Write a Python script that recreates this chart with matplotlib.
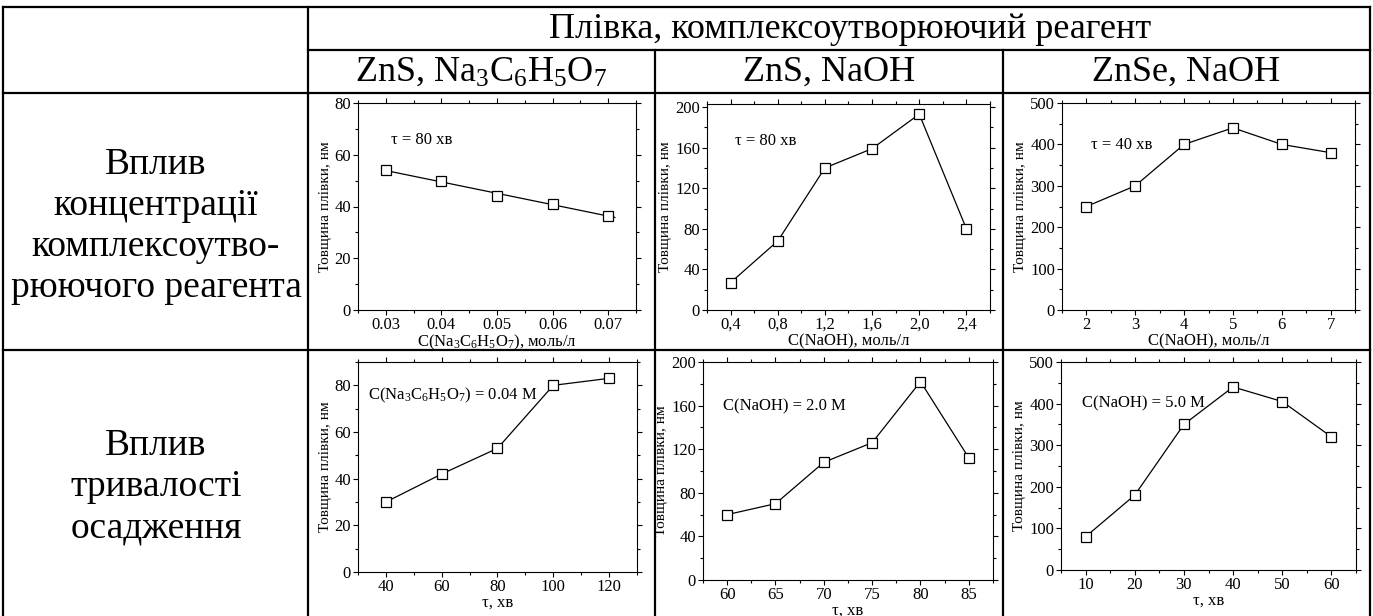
import numpy as np
import matplotlib.pyplot as plt
from matplotlib.ticker import MultipleLocator, FuncFormatter

plt.rcParams['font.family'] = ['Liberation Serif', 'DejaVu Serif']
plt.rcParams['mathtext.default'] = 'regular'

W, H = 1373, 616

# table headers
group_title = 'Плівка, комплексоутворюючий реагент'
col_titles = ['ZnS, Na$_3$C$_6$H$_5$O$_7$', 'ZnS, NaOH', 'ZnSe, NaOH']
row_titles = ['Вплив\nконцентрації\nкомплексоутво-\nрюючого реагента',
              'Вплив\nтривалості\nосадження']

# film thickness vs complexing agent concentration (nm)
conc_citrate = [0.03, 0.04, 0.05, 0.06, 0.07]
thick_citrate = [54, 50, 44, 41, 36.5]
conc_naoh_zns = [0.4, 0.8, 1.2, 1.6, 2.0, 2.4]
thick_naoh_zns = [27, 68, 140, 159, 193, 80]
conc_naoh_znse = [2, 3, 4, 5, 6, 7]
thick_naoh_znse = [250, 300, 400, 440, 400, 380]

# film thickness vs deposition time (nm)
time_citrate = [40, 60, 80, 100, 120]
thick_time_citrate = [30, 42, 53, 80, 83]
time_naoh_zns = [60, 65, 70, 75, 80, 85]
thick_time_naoh_zns = [60, 70, 108, 126, 182, 112]
time_naoh_znse = [10, 20, 30, 40, 50, 60]
thick_time_naoh_znse = [80, 180, 350, 440, 405, 320]

ylabel = 'Товщина плівки, нм'

panels = [
    dict(x=conc_citrate, y=thick_citrate, box=(358, 103, 636, 310),
         xlim=(0.025, 0.075), ylim=(0, 80), xt=(0.01, 0.005), yt=(20, 10),
         xlabel='C(Na$_3$C$_6$H$_5$O$_7$), моль/л', note='τ = 80 хв', npos=(0.12, 0.8),
         fmt=lambda v, p: f'{v:.2f}', fit=True),
    dict(x=conc_naoh_zns, y=thick_naoh_zns, box=(707, 104, 990, 310),
         xlim=(0.2, 2.6), ylim=(0, 203), xt=(0.4, 0.2), yt=(40, 20),
         xlabel='C(NaOH), моль/л', note='τ = 80 хв', npos=(0.1, 0.8),
         fmt=lambda v, p: f'{v:.1f}'.replace('.', ','), fit=False),
    dict(x=conc_naoh_znse, y=thick_naoh_znse, box=(1062, 103, 1355, 310),
         xlim=(1.5, 7.5), ylim=(0, 500), xt=(1, 0.5), yt=(100, 50),
         xlabel='C(NaOH), моль/л', note='τ = 40 хв', npos=(0.1, 0.78),
         fmt=lambda v, p: f'{v:.0f}', fit=False),
    dict(x=time_citrate, y=thick_time_citrate, box=(358, 362, 637, 572),
         xlim=(30, 130), ylim=(0, 90), xt=(20, 10), yt=(20, 10),
         xlabel='τ, хв', note='C(Na$_3$C$_6$H$_5$O$_7$) = 0.04 M', npos=(0.035, 0.82),
         fmt=lambda v, p: f'{v:.0f}', fit=False),
    dict(x=time_naoh_zns, y=thick_time_naoh_zns, box=(703, 362, 993, 580),
         xlim=(57.5, 87.5), ylim=(0, 200), xt=(5, 2.5), yt=(40, 20),
         xlabel='τ, хв', note='C(NaOH) = 2.0 M', npos=(0.07, 0.78),
         fmt=lambda v, p: f'{v:.0f}', fit=False),
    dict(x=time_naoh_znse, y=thick_time_naoh_znse, box=(1061, 362, 1356, 570),
         xlim=(5, 65), ylim=(0, 500), xt=(10, 5), yt=(100, 50),
         xlabel='τ, хв', note='C(NaOH) = 5.0 M', npos=(0.07, 0.78),
         fmt=lambda v, p: f'{v:.0f}', fit=False),
]

fig = plt.figure(figsize=(W / 100, H / 100), dpi=100)

# table grid and captions drawn in pixel coordinates
grid = fig.add_axes([0, 0, 1, 1])
grid.set_xlim(0, W)
grid.set_ylim(H, 0)
grid.axis('off')

lw = 1.6
hlines = [(7, 3, 1370), (50, 308, 1370), (93, 3, 1370), (350, 3, 1370)]
vlines = [(3, 7, 616), (308, 7, 616), (655, 50, 616), (1003, 50, 616), (1370, 7, 616)]
for y, x0, x1 in hlines:
    grid.plot([x0, x1], [y, y], color='black', lw=lw, solid_capstyle='projecting')
for x, y0, y1 in vlines:
    grid.plot([x, x], [y0, y1], color='black', lw=lw, solid_capstyle='projecting')

grid.text(850, 29, group_title, fontsize=26, ha='center', va='center')
for cx, t in zip([481, 829, 1186], col_titles):
    grid.text(cx, 72, t, fontsize=26, ha='center', va='center')
grid.text(156, 226, row_titles[0], fontsize=27, ha='center', va='center', linespacing=1.25)
grid.text(156, 487, row_titles[1], fontsize=27, ha='center', va='center', linespacing=1.25)

for p in panels:
    l, t, r, b = p['box']
    ax = fig.add_axes([l / W, 1 - b / H, (r - l) / W, (b - t) / H])
    if p['fit']:
        k, c = np.polyfit(p['x'], p['y'], 1)
        xs = np.array([0.0295, 0.0712])
        ax.plot(xs, k * xs + c, color='black', lw=0.9)
        ax.plot(p['x'], p['y'], ls='none', marker='s', ms=7.5, mfc='white', mec='black', mew=0.9)
    else:
        ax.plot(p['x'], p['y'], color='black', lw=0.9, marker='s', ms=7.5,
                mfc='white', mec='black', mew=0.9)
    ax.set_xlim(*p['xlim'])
    ax.set_ylim(*p['ylim'])
    ax.xaxis.set_major_locator(MultipleLocator(p['xt'][0]))
    ax.xaxis.set_minor_locator(MultipleLocator(p['xt'][1]))
    ax.yaxis.set_major_locator(MultipleLocator(p['yt'][0]))
    ax.yaxis.set_minor_locator(MultipleLocator(p['yt'][1]))
    ax.xaxis.set_major_formatter(FuncFormatter(p['fmt']))
    ax.tick_params(which='both', direction='out', top=True, right=True,
                   labelsize=12, width=0.8, pad=1.5)
    ax.tick_params(which='major', length=3.5)
    ax.tick_params(which='minor', length=2)
    for s in ax.spines.values():
        s.set_linewidth(0.8)
    ax.set_xlabel(p['xlabel'], fontsize=12, labelpad=0)
    ax.set_ylabel(ylabel, fontsize=11, labelpad=2)
    ax.text(p['npos'][0], p['npos'][1], p['note'], transform=ax.transAxes, fontsize=12)

fig.savefig('out.png', dpi=100)
